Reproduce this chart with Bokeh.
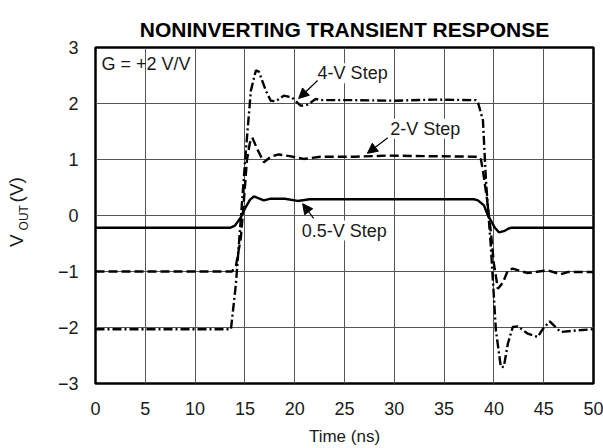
from bokeh.plotting import figure
from bokeh.models import Label, Arrow, NormalHead, FixedTicker, Range1d
from bokeh.layouts import row
from bokeh.core.properties import value
from bokeh.embed import file_html
from bokeh.resources import INLINE

# --- data ---
t_half = [0, 13.5, 14.0, 14.6, 15.0, 15.5, 15.9, 16.9, 17.6, 19.0, 20.3, 21.5, 22.6, 30.0, 38.0, 38.4,
          39.0, 39.4, 39.7, 40.1, 40.5, 41.0, 41.4, 41.7, 50]
v_half = [-0.22, -0.22, -0.18, -0.03, 0.12, 0.28, 0.34, 0.27, 0.30, 0.30, 0.26, 0.29, 0.29, 0.29, 0.29, 0.27,
          0.18, 0.00, -0.09, -0.22, -0.30, -0.28, -0.24, -0.22, -0.22]

t_two = [0, 13.7, 14.1, 14.6, 14.9, 15.2, 15.5, 15.75, 16.2, 16.9, 17.6, 18.4, 19.5, 20.9, 22.6, 26.0, 29.3,
         33.0, 38.4, 38.7, 38.9, 39.3, 39.7, 40.0, 40.4, 40.9, 41.4, 41.9, 43.4, 44.5, 45.4, 46.7, 47.4, 50]
v_two = [-1.0, -1.0, -0.9, -0.39, 0.27, 0.98, 1.30, 1.39, 1.20, 0.95, 1.05, 1.09, 1.06, 1.01, 1.05, 1.05, 1.07,
         1.06, 1.05, 1.0, 0.80, 0.30, -0.30, -0.86, -1.31, -1.20, -0.98, -0.95, -1.03, -1.0, -0.98, -1.05, -1.01, -1.01]

t_four = [0, 13.6, 14.1, 14.6, 15.1, 15.6, 16.1, 16.4, 17.1, 17.6, 18.1, 18.9, 19.7, 20.6, 21.3, 22.1, 22.8,
          26.0, 30.0, 34.0, 38.2, 38.4, 38.9, 39.2, 39.7, 40.2, 40.7, 41.0, 41.4, 41.9, 42.4, 43.4, 44.4, 44.9,
          45.6, 46.7, 48.4, 50]
v_four = [-2.03, -2.03, -1.22, -0.03, 1.16, 2.23, 2.59, 2.57, 2.23, 2.05, 2.04, 2.14, 2.11, 1.96, 1.98, 2.08, 2.06,
          2.06, 2.05, 2.07, 2.06, 2.02, 1.70, 0.63, -0.57, -2.05, -2.71, -2.70, -2.29, -1.99, -1.98, -2.11, -2.17,
          -2.03, -1.89, -2.08, -2.05, -2.03]

x_ticks = [0, 5, 10, 15, 20, 25, 30, 35, 40, 45, 50]
y_ticks = [-3, -2, -1, 0, 1, 2, 3]
y_tick_labels = ["\u22123", "\u22122", "\u22121", "0", "1", "2", "3"]
y_label_parts = ["V", "OUT", "(V)"]

FONT = "Liberation Sans"
TXT = "#1a1a1a"
LEFT_W = 40

p = figure(width=603 - LEFT_W, height=448, output_backend="svg", toolbar_location=None,
           x_range=Range1d(0, 50), y_range=Range1d(-3, 3),
           min_border_left=95 - LEFT_W, min_border_right=10, min_border_top=47, min_border_bottom=65,
           title="NONINVERTING TRANSIENT RESPONSE")

p.title.text_font = FONT
p.title.text_font_size = "21px"
p.title.text_font_style = "bold"
p.title.align = "center"
p.title.text_color = "black"
p.title.standoff = 14
p.title.offset = -LEFT_W / 2

p.outline_line_color = "black"
p.outline_line_width = 2.5
p.background_fill_color = "white"
p.border_fill_color = "white"

p.xaxis.ticker = FixedTicker(ticks=x_ticks)
p.yaxis.ticker = FixedTicker(ticks=y_ticks)
p.yaxis.major_label_overrides = {v: s for v, s in zip(y_ticks, y_tick_labels)}

for ax in (p.xaxis[0], p.yaxis[0]):
    ax.axis_line_color = None
    ax.major_tick_line_color = None
    ax.minor_tick_line_color = None
    ax.major_label_text_font = FONT
    ax.major_label_text_font_size = "18px"
    ax.major_label_text_color = TXT

p.xaxis.major_label_standoff = 12
p.yaxis.major_label_standoff = 11
p.xaxis.axis_label = "Time (ns)"
p.xaxis.axis_label_text_font = FONT
p.xaxis.axis_label_text_font_size = "17px"
p.xaxis.axis_label_text_font_style = "normal"
p.xaxis.axis_label_text_color = TXT
p.xaxis.axis_label_standoff = 9

p.xgrid.grid_line_color = "#555555"
p.ygrid.grid_line_color = "#555555"
p.xgrid.grid_line_width = 1
p.ygrid.grid_line_width = 1

# curves
p.line(t_half, v_half, line_color="black", line_width=2.4)
p.line(t_two, v_two, line_color="black", line_width=2.4, line_dash="9 4")
p.line(t_four, v_four, line_color="black", line_width=2.4, line_dash="9 3 2 3")

# annotations
def note(x, y, txt, bg=True):
    p.add_layout(Label(x=x, y=y, text=txt, text_font=FONT, text_font_size="18px",
                       text_align="left", text_baseline="middle", text_color=TXT,
                       background_fill_color="white" if bg else None, background_fill_alpha=1.0))

note(0.6, 2.71, "G = +2 V/V", bg=False)
note(22.3, 2.54, "4-V Step")
note(29.6, 1.55, "2-V Step")
note(20.7, -0.27, "0.5-V Step")

def arrow(x0, y0, x1, y1):
    p.add_layout(Arrow(end=NormalHead(size=10, fill_color="black", line_color="black"),
                       x_start=x0, y_start=y0, x_end=x1, y_end=y1,
                       line_color="black", line_width=1.2))

arrow(22.3, 2.41, 20.4, 2.09)
arrow(29.35, 1.39, 27.3, 1.11)
arrow(21.9, -0.05, 20.8, 0.21)

# narrow strip at left for the rotated y-axis title (with subscript); shares the y range
lp = figure(width=LEFT_W, height=448, output_backend="svg", toolbar_location=None,
            x_range=Range1d(0, LEFT_W), y_range=p.y_range,
            x_axis_type=None, y_axis_type=None,
            min_border=0, min_border_left=0, min_border_right=0, min_border_top=0, min_border_bottom=0)
lp.outline_line_color = None
lp.grid.visible = False
lp.background_fill_color = "white"
lp.border_fill_color = "white"
lp.text(x=[15.5], y=[-0.45], text=[y_label_parts[0]], angle=1.5708, text_font=value(FONT),
        text_font_size="19px", text_align="center", text_baseline="middle", text_color=TXT)
lp.text(x=[23.5], y=[-0.04], text=[y_label_parts[1]], angle=1.5708, text_font=value(FONT),
        text_font_size="12px", text_align="center", text_baseline="middle", text_color=TXT)
lp.text(x=[15.5], y=[0.46], text=[y_label_parts[2]], angle=1.5708, text_font=value(FONT),
        text_font_size="19px", text_align="center", text_baseline="middle", text_color=TXT)

layout = row(lp, p, spacing=0)
open("out.html", "w").write(file_html(layout, INLINE))
